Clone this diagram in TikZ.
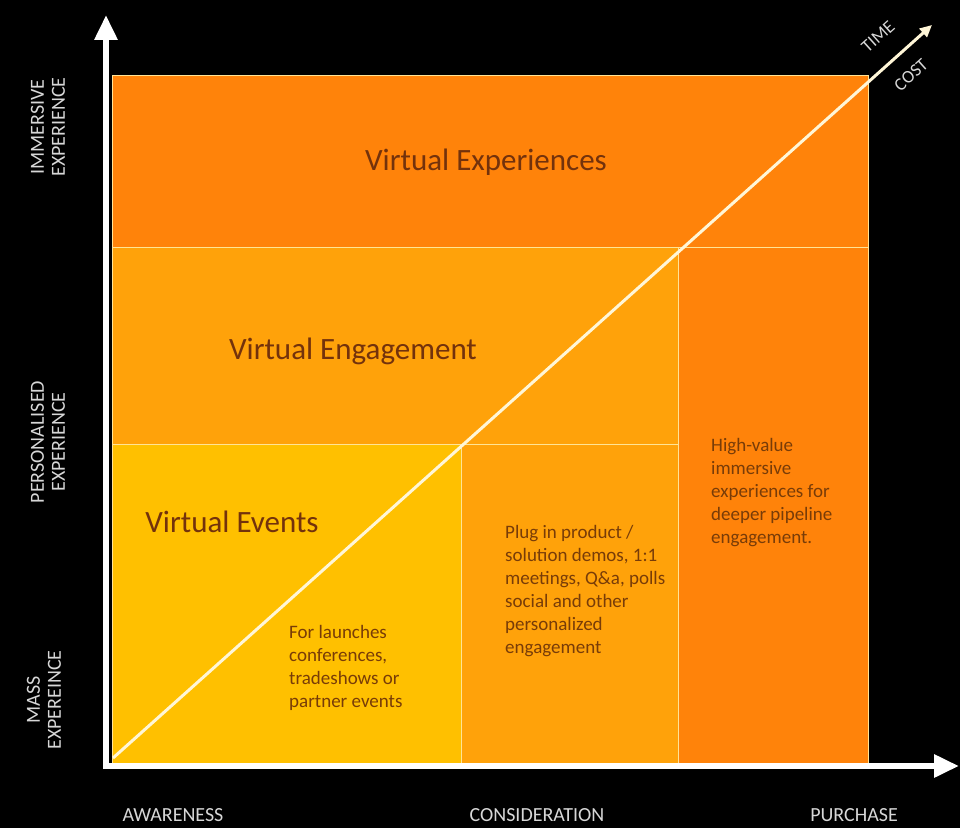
\documentclass[tikz,border=0pt]{standalone}
\usepackage{fontspec}
\setmainfont{Carlito}
\usetikzlibrary{arrows.meta}
\definecolor{bgblack}{RGB}{0,0,0}
\definecolor{deeporange}{RGB}{255,131,10}
\definecolor{midorange}{RGB}{255,162,10}
\definecolor{lightorange}{RGB}{255,192,0}
\definecolor{edgecol}{RGB}{255,228,150}
\definecolor{titletext}{RGB}{115,50,12}
\definecolor{bodytext}{RGB}{120,60,8}
\definecolor{axistext}{RGB}{215,215,215}
\definecolor{diagcol}{RGB}{255,246,215}
\tikzset{
  zone/.style={draw=edgecol, line width=1pt},
  axisline/.style={white, line width=6pt, -{Triangle[width=22pt,length=25pt]}},
  zonetitle/.style={text=titletext, font=\fontsize{31}{35}\selectfont, inner sep=0pt},
  bodybox/.style={text=bodytext, font=\fontsize{19}{23}\selectfont, align=left, anchor=north west, inner sep=0pt},
  axislabel/.style={text=axistext, font=\fontsize{20}{21}\selectfont, inner sep=0pt, align=center},
  difflabel/.style={text=axistext, font=\fontsize{18}{20}\selectfont, inner sep=0pt},
}
\begin{document}
\begin{tikzpicture}[x=1pt,y=1pt]
\fill[bgblack] (0,0) rectangle (960,828);
\useasboundingbox (0,0) rectangle (960,828);
% zones
\path[zone, fill=deeporange] (112,752) rectangle (868,580);
\path[zone, fill=deeporange] (678,580) rectangle (868,65);
\path[zone, fill=midorange] (112,580) rectangle (678,384);
\path[zone, fill=midorange] (461,384) rectangle (678,65);
\path[zone, fill=lightorange] (112,384) rectangle (461,65);
% named anchors
\coordinate (ytip) at (106,813);
\coordinate (xtip) at (959,62);
\coordinate (dstart) at (113,70);
\coordinate (dtip) at (932,803);
% axes
\draw[axisline] (106,59) -- (ytip);
\draw[axisline] (103,62) -- (xtip);
% diagonal
\draw[diagcol, line width=3pt, -{Triangle[width=11pt,length=12pt]}] (dstart) -- (dtip);
\node[difflabel, rotate=42] (time) at (878,791) {TIME};
\node[difflabel, rotate=42] (cost) at (911,753) {COST};
% zone titles
\node[zonetitle] (vexp) at (486,666) {Virtual Experiences};
\node[zonetitle] (veng) at (353,477) {Virtual Engagement};
\node[zonetitle] (vevt) at (232,306) {Virtual Events};
% body texts
\node[bodybox] (b1) at (289,203) {For launches\\conferences,\\tradeshows or\\partner events};
\node[bodybox] (b2) at (505,303) {Plug in product /\\solution demos, 1:1\\meetings, Q\&a, polls\\social and other\\personalized\\engagement};
\node[bodybox] (b3) at (711,390) {High-value\\immersive\\experiences for\\deeper pipeline\\engagement.};
% axis labels
\node[axislabel] (aw) at (173,13) {AWARENESS};
\node[axislabel] (co) at (537,13) {CONSIDERATION};
\node[axislabel] (pu) at (854,13) {PURCHASE};
\node[axislabel, rotate=90] (imm) at (48,701) {IMMERSIVE\\EXPERIENCE};
\node[axislabel, rotate=90] (per) at (48,386) {PERSONALISED\\EXPERIENCE};
\node[axislabel, rotate=90] (mas) at (44,128) {MASS\\EXPEREINCE};
\end{tikzpicture}
\end{document}
